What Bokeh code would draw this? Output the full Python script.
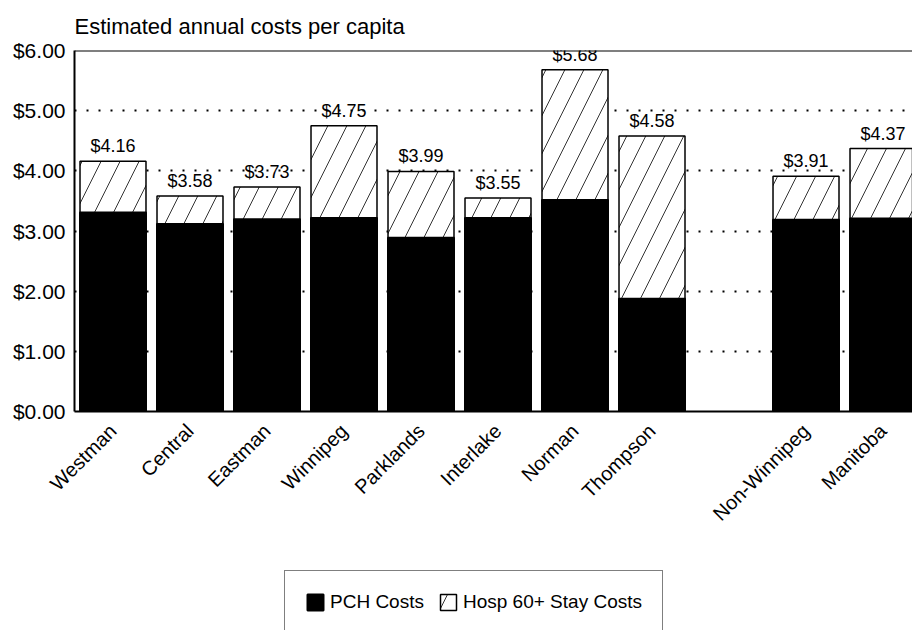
import math
import numpy as np
from bokeh.plotting import figure
from bokeh.layouts import column
from bokeh.models import (Range1d, FixedTicker, NumeralTickFormatter, ColumnDataSource,
                          Legend, LegendItem, Span)
from bokeh.core.properties import value
from bokeh.embed import file_html
from bokeh.resources import INLINE

# ---- data ----
regions = ["Westman", "Central", "Eastman", "Winnipeg", "Parklands", "Interlake",
           "Norman", "Thompson", "Non-Winnipeg", "Manitoba"]
pch_costs = [3.31, 3.12, 3.20, 3.22, 2.89, 3.22, 3.52, 1.88, 3.19, 3.21]
total_costs = [4.16, 3.58, 3.73, 4.75, 3.99, 3.55, 5.68, 4.58, 3.91, 4.37]
y_ticks = [0, 1, 2, 3, 4, 5, 6]
grid_ticks = [1, 2, 3, 4, 5]
title_text = "Estimated annual costs per capita"
series_names = ["PCH Costs", "Hosp 60+ Stay Costs"]

FONT = "Liberation Sans"

PCH_STYLE = dict(fill_color="black", line_color="black", line_width=2)
HOSP_STYLE = dict(fill_color="white", line_color="black", line_width=1.5,
                  hatch_pattern="/", hatch_color="black", hatch_scale=38,
                  hatch_weight=0.8)

# one empty slot between the regions and the summary bars
xpos = [i + (1 if i >= 8 else 0) for i in range(len(regions))]
src = ColumnDataSource(dict(
    x=xpos, pch=pch_costs, total=total_costs,
    label=["$%.2f" % t for t in total_costs],
))

p = figure(width=912, height=560, output_backend="svg", toolbar_location=None,
           x_range=Range1d(-0.5, 10.383), y_range=Range1d(0, 6),
           min_border_left=74, min_border_right=0, min_border_top=50,
           min_border_bottom=149, title=title_text)
p.outline_line_color = None
p.background_fill_color = "white"
p.border_fill_color = "white"

p.title.text_font = FONT
p.title.text_font_size = "22px"
p.title.text_font_style = "normal"
p.title.text_color = "black"
p.title.align = "left"
p.title.offset = 0
p.title.standoff = 23

p.vbar(x="x", bottom=0, top="pch", width=0.857, source=src, **PCH_STYLE)
p.vbar(x="x", bottom="pch", top="total", width=0.857, source=src, **HOSP_STYLE)

p.text(x="x", y="total", text="label", source=src, text_align="center",
       text_baseline="bottom", y_offset=-5, text_font=value(FONT),
       text_font_size="18px", text_color="black")

top_line = Span(location=6, dimension="width", line_color="black", line_width=2)
p.add_layout(top_line)

# axes
p.xaxis.ticker = FixedTicker(ticks=xpos)
p.xaxis.major_label_overrides = {x: name for x, name in zip(xpos, regions)}
p.xaxis.major_label_orientation = math.pi / 4
p.xaxis.major_label_text_font = FONT
p.xaxis.major_label_text_font_size = "20px"
p.xaxis.major_label_text_color = "black"
p.xaxis.major_tick_line_color = None
p.xaxis.minor_tick_line_color = None
p.xaxis.axis_line_width = 2
p.xaxis.major_label_standoff = 10

p.yaxis.ticker = FixedTicker(ticks=y_ticks)
p.yaxis.formatter = NumeralTickFormatter(format="$0.00")
p.yaxis.major_label_text_font = FONT
p.yaxis.major_label_text_font_size = "21px"
p.yaxis.major_label_text_color = "black"
p.yaxis.major_tick_line_color = None
p.yaxis.minor_tick_line_color = None
p.yaxis.axis_line_width = 2
p.yaxis.major_label_standoff = 3

p.xgrid.visible = False
p.ygrid.ticker = FixedTicker(ticks=grid_ticks)
p.ygrid.grid_line_color = "black"
p.ygrid.grid_line_dash = "2 10"
p.ygrid.grid_line_width = 2

# ---- legend strip below the chart ----
lf = figure(width=912, height=70, output_backend="svg", toolbar_location=None,
            x_range=Range1d(0, 1), y_range=Range1d(0, 1),
            x_axis_location=None, y_axis_location=None,
            min_border_left=0, min_border_right=0, min_border_top=0,
            min_border_bottom=0)
lf.outline_line_color = None
lf.xgrid.visible = False
lf.ygrid.visible = False
lf.background_fill_color = "white"
lf.border_fill_color = "white"
# key glyphs only: a single undrawable (NaN) mark, used just for the legend swatches
key_src = ColumnDataSource(dict(x=np.array([np.nan]), top=np.array([np.nan])))
k1 = lf.vbar(x="x", top="top", width=0.1, source=key_src, **PCH_STYLE)
k2 = lf.vbar(x="x", top="top", width=0.1, source=key_src, **HOSP_STYLE)

legend = Legend(items=[LegendItem(label=series_names[0], renderers=[k1]),
                       LegendItem(label=series_names[1], renderers=[k2])],
                orientation="horizontal", location=(210, -4),
                border_line_color="black", border_line_width=1.5,
                label_text_font=FONT, label_text_font_size="19px",
                label_text_color="black",
                glyph_width=20, glyph_height=20, padding=20, spacing=14,
                label_standoff=5, margin=0)
lf.add_layout(legend)

layout = column(p, lf, spacing=0)
open("out.html", "w").write(file_html(layout, INLINE))
